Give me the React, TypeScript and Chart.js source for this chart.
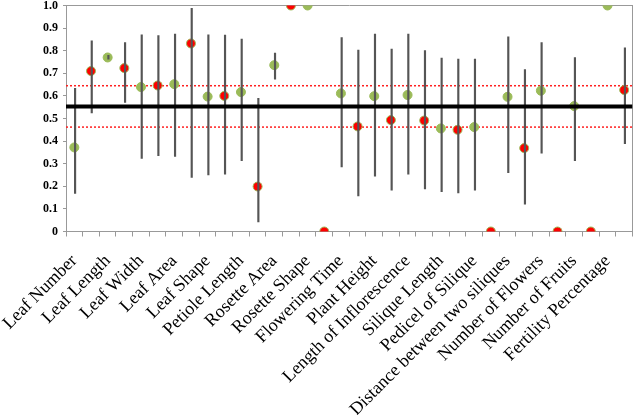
import React, { useEffect, useRef } from "react";
import { Chart, registerables } from "chart.js";

Chart.register(...registerables);

const traits = [
  "Leaf Number",
  "Leaf Length",
  "Leaf Width",
  "Leaf Area",
  "Leaf Shape",
  "Petiole Length",
  "Rosette Area",
  "Rosette Shape",
  "Flowering Time",
  "Plant Height",
  "Length of Inflorescence",
  "Silique Length",
  "Pedicel of Silique",
  "Distance between two siliques",
  "Number of Flowers",
  "Number of Fruits",
  "Fertility Percentage",
];

const greenValues = [0.372, 0.77, 0.639, 0.652, 0.597, 0.617, 0.736, 1.0, 0.611, 0.599, 0.604, 0.456, 0.462, 0.596, 0.623, 0.555, 1.0];
const greenLow = [0.168, 0.762, 0.323, 0.332, 0.25, 0.313, 0.674, null, 0.286, 0.245, 0.254, 0.176, 0.183, 0.26, 0.347, 0.313, null];
const greenHigh = [0.634, 0.779, 0.87, 0.873, 0.87, 0.851, 0.789, null, 0.858, 0.873, 0.873, 0.767, 0.763, 0.861, 0.836, 0.77, null];

const redValues = [0.71, 0.723, 0.646, 0.832, 0.6, 0.199, 1.0, 0, 0.465, 0.493, 0.491, 0.45, 0, 0.369, 0, 0, 0.626];
const redLow = [0.525, 0.571, 0.336, 0.239, 0.254, 0.042, null, null, 0.157, 0.183, 0.188, 0.171, null, 0.121, null, null, 0.389];
const redHigh = [0.844, 0.836, 0.867, 0.988, 0.869, 0.589, null, null, 0.803, 0.807, 0.8, 0.763, null, 0.717, null, null, 0.813];

const meanLine = 0.553;
const upperLimit = 0.645;
const lowerLimit = 0.462;

const yTicks = [0, 0.1, 0.2, 0.3, 0.4, 0.5, 0.6, 0.7, 0.8, 0.9, 1];

const serif = "'Liberation Serif', 'Times New Roman', serif";

export default function App() {
  const ref = useRef<HTMLCanvasElement | null>(null);

  useEffect(() => {
    document.body.style.margin = "0";
    const canvas = ref.current;
    if (!canvas) return;

    const labels: string[] = [];
    const green: (number | null)[] = [];
    const red: (number | null)[] = [];
    const errs: ([number, number] | null)[] = [];
    traits.forEach((t, i) => {
      labels.push(t);
      labels.push("");
      green.push(greenValues[i]);
      green.push(null);
      red.push(null);
      red.push(redValues[i]);
      const gl = greenLow[i];
      const gh = greenHigh[i];
      errs.push(gl !== null && gh !== null ? [gl, gh] : null);
      const rl = redLow[i];
      const rh = redHigh[i];
      errs.push(rl !== null && rh !== null ? [rl, rh] : null);
    });

    const hLine = (v: number) => [
      { x: 0, y: v },
      { x: 1, y: v },
    ];

    const chart = new Chart(canvas, {
      type: "bar",
      data: {
        labels,
        datasets: [
          {
            type: "line",
            label: "mean",
            data: hLine(meanLine) as any,
            xAxisID: "x2",
            borderColor: "#000000",
            borderWidth: 4,
            pointRadius: 0,
            order: 0,
          },
          {
            type: "bar",
            label: "err",
            data: errs as any,
            backgroundColor: "#555555",
            barThickness: 1.5,
            order: 1,
          },
          {
            type: "line",
            label: "red",
            data: red,
            showLine: false,
            pointRadius: 4.5,
            pointBackgroundColor: "#ff0000",
            pointBorderColor: "#9bbb59",
            pointBorderWidth: 1,
            order: 2,
          },
          {
            type: "line",
            label: "green",
            data: green,
            showLine: false,
            pointRadius: 4.5,
            pointBackgroundColor: "#9bbb59",
            pointBorderColor: "#9bbb59",
            pointBorderWidth: 1,
            order: 3,
          },
          {
            type: "line",
            label: "upper",
            data: hLine(upperLimit) as any,
            xAxisID: "x2",
            borderColor: "#ff2020",
            borderWidth: 1.5,
            borderDash: [2, 2],
            pointRadius: 0,
            order: 4,
          },
          {
            type: "line",
            label: "lower",
            data: hLine(lowerLimit) as any,
            xAxisID: "x2",
            borderColor: "#ff2020",
            borderWidth: 1.5,
            borderDash: [2, 2],
            pointRadius: 0,
            order: 5,
          },
        ],
      },
      options: {
        responsive: false,
        animation: false,
        devicePixelRatio: 1,
        layout: { padding: { top: 0, right: 1, left: 0, bottom: 0 } },
        plugins: {
          legend: { display: false },
          tooltip: { enabled: false },
        },
        scales: {
          x: {
            type: "category",
            position: "bottom",
            offset: true,
            grid: {
              display: true,
              drawOnChartArea: false,
              offset: true,
              tickLength: 5,
              color: "#999999",
            },
            border: { display: true, color: "#999999", width: 1 },
            ticks: {
              autoSkip: false,
              maxRotation: 45,
              minRotation: 45,
              color: "#000000",
              padding: 14,
              font: { family: serif, size: 18 },
            },
            afterFit: (s: any) => {
              s.height = 183.5;
              s.paddingLeft = 0;
              s.paddingRight = 0;
            },
          },
          x2: {
            type: "linear",
            position: "top",
            min: 0,
            max: 1,
            offset: false,
            display: true,
            grid: { display: false, drawTicks: false, offset: false },
            ticks: { display: false },
            border: { display: true, color: "#999999", width: 1 },
            afterFit: (s: any) => {
              s.height = 0;
              s.paddingLeft = 0;
              s.paddingRight = 0;
            },
          },
          y: {
            type: "linear",
            position: "left",
            min: 0,
            max: 1,
            afterBuildTicks: (s: any) => {
              s.ticks = yTicks.map((v) => ({ value: v }));
            },
            grid: {
              display: true,
              drawOnChartArea: false,
              tickLength: 3,
              color: "#999999",
            },
            border: { display: true, color: "#999999", width: 1 },
            ticks: {
              color: "#000000",
              padding: 5,
              font: { family: serif, size: 12, weight: "bold" },
            },
            afterFit: (s: any) => {
              s.width = 66;
              s.paddingTop = 5;
              s.paddingBottom = 0;
            },
          },
          y2: {
            type: "linear",
            position: "right",
            min: 0,
            max: 1,
            display: true,
            grid: { display: false, drawTicks: false },
            ticks: { display: false },
            border: { display: true, color: "#999999", width: 1 },
            afterFit: (s: any) => {
              s.width = 0;
              s.paddingTop = 0;
              s.paddingBottom = 0;
            },
          },
        },
      } as any,
    });

    return () => {
      chart.destroy();
    };
  }, []);

  return (
    <div style={{ width: 638, height: 415, position: "relative" }}>
      <canvas ref={ref} width={638} height={415} style={{ display: "block" }} />
    </div>
  );
}
